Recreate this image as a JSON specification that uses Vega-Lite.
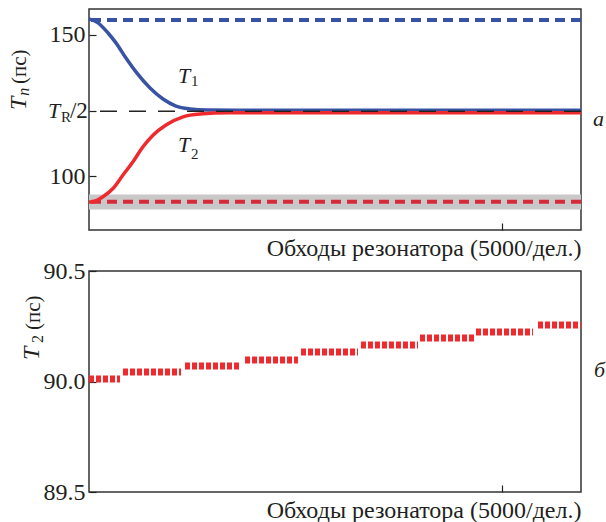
{
  "$schema": "https://vega.github.io/schema/vega-lite/v6.json",
  "background": "white",
  "padding": {"left": 6, "top": 8, "right": 0, "bottom": 0},
  "bounds": "flush",
  "spacing": 41,
  "config": {
    "view": {"stroke": "#333", "strokeWidth": 1.5},
    "font": "Liberation Serif",
    "axis": {"domain": false, "grid": false, "tickColor": "#222", "tickWidth": 1.2, "tickSize": -7, "labelFont": "Liberation Serif", "labelFontSize": 24, "labelColor": "#231f20", "labelPadding": 11, "titleFont": "Liberation Serif", "titleFontWeight": "normal", "titleColor": "#231f20", "titleFontSize": 24},
    "text": {"font": "Liberation Serif", "color": "#231f20"}
  },
  "vconcat": [
    {
      "width": 492,
      "height": 221,
      "encoding": {
        "x": {"type": "quantitative", "scale": {"domain": [0, 5950], "nice": false}},
        "y": {"type": "quantitative", "scale": {"domain": [80.9, 159.2], "nice": false}}
      },
      "layer": [
        {
          "data": {"values": [{"x0": 0, "x1": 5950, "lo": 88.2, "hi": 93.5}]},
          "mark": {"type": "rect", "color": "#c8c8c8"},
          "encoding": {
            "x": {"field": "x0", "type": "quantitative", "scale": {"domain": [0, 5950], "nice": false}, "axis": {"values": [5000], "labels": false, "title": "Обходы резонатора (5000/дел.)", "titleAnchor": "end", "titlePadding": 6, "titleFont": "Liberation Serif"}},
            "x2": {"field": "x1"},
            "y": {"field": "lo", "type": "quantitative", "scale": {"domain": [80.9, 159.2], "nice": false}, "axis": {"values": [100, 123.0, 150], "labelExpr": "datum.value == 123 ? '' : format(datum.value, 'd')", "title": null, "labelFont": "Liberation Serif"}},
            "y2": {"field": "hi"}
          }
        },
        {
          "data": {"values": [{"level": 155.3}]},
          "mark": {"type": "rule", "color": "#3953a4", "strokeWidth": 4, "strokeDash": [10, 6]},
          "encoding": {"y": {"field": "level"}}
        },
        {
          "data": {"values": [{"level": 90.9}]},
          "mark": {"type": "rule", "color": "#d62b38", "strokeWidth": 4, "strokeDash": [10, 6]},
          "encoding": {"y": {"field": "level"}}
        },
        {
          "data": {"values": [
            {"series": "T1", "x": 0, "t": 155.7}, {"series": "T1", "x": 109, "t": 154.3}, {"series": "T1", "x": 230, "t": 150.7}, {"series": "T1", "x": 326, "t": 147.2}, {"series": "T1", "x": 447, "t": 141.8}, {"series": "T1", "x": 568, "t": 136.9}, {"series": "T1", "x": 738, "t": 131.2}, {"series": "T1", "x": 895, "t": 127.3}, {"series": "T1", "x": 1052, "t": 124.8}, {"series": "T1", "x": 1221, "t": 123.8}, {"series": "T1", "x": 1439, "t": 123.4}, {"series": "T1", "x": 1800, "t": 123.3}, {"series": "T1", "x": 5950, "t": 123.3},
            {"series": "T2", "x": 0, "t": 90.8}, {"series": "T2", "x": 48, "t": 90.9}, {"series": "T2", "x": 169, "t": 92.7}, {"series": "T2", "x": 290, "t": 95.6}, {"series": "T2", "x": 411, "t": 100.4}, {"series": "T2", "x": 532, "t": 105.1}, {"series": "T2", "x": 653, "t": 110.4}, {"series": "T2", "x": 774, "t": 114.5}, {"series": "T2", "x": 931, "t": 118.1}, {"series": "T2", "x": 1137, "t": 121.0}, {"series": "T2", "x": 1342, "t": 122.0}, {"series": "T2", "x": 1681, "t": 122.4}, {"series": "T2", "x": 5950, "t": 122.4}
          ]},
          "mark": {"type": "line", "strokeWidth": 3.5, "interpolate": "monotone"},
          "encoding": {
            "x": {"field": "x"},
            "y": {"field": "t"},
            "color": {"field": "series", "type": "nominal", "scale": {"domain": ["T1", "T2"], "range": ["#3953a4", "#ee2a2e"]}, "legend": null}
          }
        },
        {
          "data": {"values": [{"level": 123.0}]},
          "mark": {"type": "rule", "color": "#222", "strokeWidth": 1.5, "strokeDash": [17, 12]},
          "encoding": {"y": {"field": "level"}}
        },
        {
          "data": {"values": [{"s": "T", "x": 1076, "y": 133.0}, {"s": "T", "x": 1076, "y": 108.5}, {"s": "а", "x": 6096, "y": 117.7}, {"s": "T", "x": -496, "y": 120.6}]},
          "mark": {"type": "text", "fontStyle": "italic", "fontSize": 22, "align": "left", "baseline": "alphabetic"},
          "encoding": {"x": {"field": "x"}, "y": {"field": "y"}, "text": {"field": "s"}}
        },
        {
          "data": {"values": [{"s": "1", "x": 1233, "y": 131.8}, {"s": "2", "x": 1233, "y": 106.0}, {"s": "R", "x": -340, "y": 119.1}]},
          "mark": {"type": "text", "fontSize": 15, "align": "left", "baseline": "alphabetic"},
          "encoding": {"x": {"field": "x"}, "y": {"field": "y"}, "text": {"field": "s"}}
        },
        {
          "data": {"values": [{"s": "/2", "x": -230, "y": 120.6}]},
          "mark": {"type": "text", "fontSize": 23, "align": "left", "baseline": "alphabetic"},
          "encoding": {"x": {"field": "x"}, "y": {"field": "y"}, "text": {"field": "s"}}
        },
        {
          "data": {"values": [{"s": "T", "x": -762, "y": 123.4}]},
          "mark": {"type": "text", "fontStyle": "italic", "fontSize": 24, "angle": 270, "align": "left", "baseline": "alphabetic"},
          "encoding": {"x": {"field": "x"}, "y": {"field": "y"}, "text": {"field": "s"}}
        },
        {
          "data": {"values": [{"s": "n", "x": -726, "y": 128.5}]},
          "mark": {"type": "text", "fontStyle": "italic", "fontSize": 16, "angle": 270, "align": "left", "baseline": "alphabetic"},
          "encoding": {"x": {"field": "x"}, "y": {"field": "y"}, "text": {"field": "s"}}
        },
        {
          "data": {"values": [{"s": "(пс)", "x": -762, "y": 132.6}]},
          "mark": {"type": "text", "fontSize": 21, "angle": 270, "align": "left", "baseline": "alphabetic"},
          "encoding": {"x": {"field": "x"}, "y": {"field": "y"}, "text": {"field": "s"}}
        }
      ]
    },
    {
      "width": 492,
      "height": 221,
      "encoding": {
        "x": {"type": "quantitative", "scale": {"domain": [0, 5950], "nice": false}},
        "y": {"type": "quantitative", "scale": {"domain": [89.5, 90.5], "nice": false}}
      },
      "layer": [
        {
          "data": {"values": [
            {"step": 1, "x": 0, "t": 90.011}, {"step": 1, "x": 375, "t": 90.011},
            {"step": 2, "x": 411, "t": 90.043}, {"step": 2, "x": 1113, "t": 90.043},
            {"step": 3, "x": 1161, "t": 90.070}, {"step": 3, "x": 1838, "t": 90.070},
            {"step": 4, "x": 1887, "t": 90.097}, {"step": 4, "x": 2527, "t": 90.097},
            {"step": 5, "x": 2564, "t": 90.133}, {"step": 5, "x": 3253, "t": 90.133},
            {"step": 6, "x": 3289, "t": 90.165}, {"step": 6, "x": 3979, "t": 90.165},
            {"step": 7, "x": 4003, "t": 90.197}, {"step": 7, "x": 4668, "t": 90.197},
            {"step": 8, "x": 4680, "t": 90.224}, {"step": 8, "x": 5369, "t": 90.224},
            {"step": 9, "x": 5430, "t": 90.256}, {"step": 9, "x": 5950, "t": 90.256}
          ]},
          "mark": {"type": "line", "color": "#ee2a2e", "strokeWidth": 7, "strokeDash": [5, 2]},
          "encoding": {
            "x": {"field": "x", "type": "quantitative", "scale": {"domain": [0, 5950], "nice": false}, "axis": {"values": [5000], "labels": false, "title": "Обходы резонатора (5000/дел.)", "titleAnchor": "end", "titlePadding": 6, "titleFont": "Liberation Serif"}},
            "y": {"field": "t", "type": "quantitative", "scale": {"domain": [89.5, 90.5], "nice": false}, "axis": {"values": [89.5, 90.0, 90.5], "format": ".1f", "title": null, "labelFont": "Liberation Serif"}},
            "detail": {"field": "step", "type": "nominal"}
          }
        },
        {
          "data": {"values": [{"s": "б", "x": 6106, "y": 90.020}]},
          "mark": {"type": "text", "fontStyle": "italic", "fontSize": 22, "align": "left", "baseline": "alphabetic"},
          "encoding": {"x": {"field": "x"}, "y": {"field": "y"}, "text": {"field": "s"}}
        },
        {
          "data": {"values": [{"s": "T", "x": -600, "y": 90.097}]},
          "mark": {"type": "text", "fontStyle": "italic", "fontSize": 24, "angle": 270, "align": "left", "baseline": "alphabetic"},
          "encoding": {"x": {"field": "x"}, "y": {"field": "y"}, "text": {"field": "s"}}
        },
        {
          "data": {"values": [{"s": "2", "x": -556, "y": 90.174}]},
          "mark": {"type": "text", "fontSize": 16, "angle": 270, "align": "left", "baseline": "alphabetic"},
          "encoding": {"x": {"field": "x"}, "y": {"field": "y"}, "text": {"field": "s"}}
        },
        {
          "data": {"values": [{"s": "(пс)", "x": -593, "y": 90.233}]},
          "mark": {"type": "text", "fontSize": 21, "angle": 270, "align": "left", "baseline": "alphabetic"},
          "encoding": {"x": {"field": "x"}, "y": {"field": "y"}, "text": {"field": "s"}}
        }
      ]
    }
  ]
}
